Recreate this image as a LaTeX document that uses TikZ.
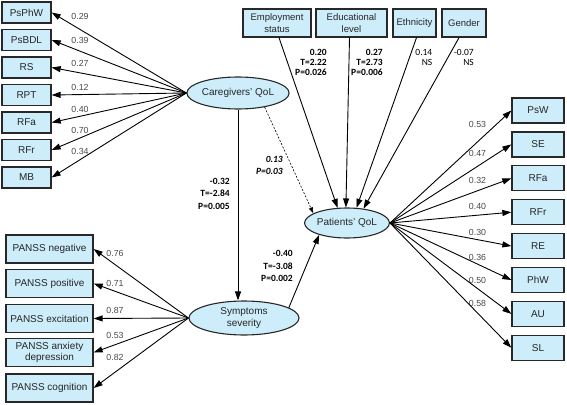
\documentclass[tikz,border=0pt]{standalone}
\usepackage{fontspec}
\setmainfont{Liberation Sans}
\newfontfamily\carl{Carlito}
\usetikzlibrary{shapes.geometric,arrows.meta}
\definecolor{boxfill}{RGB}{205,237,250}
\definecolor{edgec}{RGB}{40,40,40}
\begin{document}
\begin{tikzpicture}[x=1pt,y=-1pt,
 box/.style={draw=edgec,fill=boxfill,line width=1.3pt,inner sep=0pt,align=center,font=\fontsize{10}{11.5}\selectfont,text=black!85},
 lat/.style={ellipse,draw=edgec,fill=boxfill,line width=1.1pt,inner sep=0pt,align=center,font=\fontsize{10}{12}\selectfont,text=black!85},
 arr/.style={-{Triangle[length=9pt,width=6pt]},line width=0.9pt,draw=black},
 dsh/.style={-{Triangle[length=6pt,width=4pt]},line width=0.6pt,dash pattern=on 2pt off 1.6pt},
 ld/.style={font=\fontsize{8.8}{10}\selectfont,text=black!72,inner sep=0pt},
 st/.style={font=\carl\bfseries\fontsize{9.5}{12.5}\selectfont,align=right,inner sep=0pt,anchor=east},
 sttop/.style={font=\carl\bfseries\fontsize{9.5}{10}\selectfont,align=right,inner sep=0pt,anchor=east},
 stns/.style={font=\carl\fontsize{9.5}{10}\selectfont,align=right,inner sep=0pt,anchor=east},
]
\useasboundingbox (0,0) rectangle (567,404);

% latent variables
\node[lat,minimum width=82pt,minimum height=32pt] (care) at (238,93) {Caregivers' QoL};
\node[lat,minimum width=80pt,minimum height=30pt] (pat) at (347,223) {Patients' QoL};
\node[lat,minimum width=110pt,minimum height=34pt] (sym) at (244,318) {Symptoms\\severity};

% caregivers' indicators
\foreach \n/\t/\y/\l/\ly in {c1/PsPhW/12.5/0.29/16, c2/PsBDL/40/0.39/40, c3/RS/67.5/0.27/63, c4/RPT/95/0.12/87, c5/RFa/122.5/0.40/109, c6/RFr/150/0.70/130, c7/MB/177.5/0.34/151}{
  \node[box,minimum width=49pt,minimum height=21pt] (\n) at (26.5,\y) {\t};
  \node[ld] (\n l) at (80,\ly) {\l};
  \draw[arr] (care.west) -- (\n.east);
}

% PANSS indicators
\foreach \n/\t/\y/\l/\ly in {s1/PANSS negative/249/0.76/253, s2/PANSS positive/283.5/0.71/283, s3/PANSS excitation/318.5/0.87/310, s4/{PANSS anxiety\\depression}/352.5/0.53/335, s5/PANSS cognition/388/0.82/357}{
  \node[box,minimum width=87pt,minimum height=28pt] (\n) at (49.5,\y) {\t};
  \node[ld] (\n l) at (115,\ly) {\l};
  \draw[arr] (sym.west) -- (\n.east);
}

% patients' indicators
\foreach \n/\t/\i/\l/\ly in {p1/PsW/0/0.53/124, p2/SE/1/0.47/153, p3/RFa/2/0.32/180, p4/RFr/3/0.40/206, p5/RE/4/0.30/232, p6/PhW/5/0.36/257, p7/AU/6/0.50/280, p8/SL/7/0.58/303}{
  \node[box,minimum width=52pt,minimum height=25pt] (\n) at (538,110.5+33.9*\i) {\t};
  \node[ld] (\n l) at (477.5,\ly) {\l};
  \draw[arr] (pat.east) -- (\n.west);
}

% covariates
\node[box,minimum width=68pt,minimum height=28pt,font=\fontsize{9.5}{11.5}\selectfont] (emp) at (277,23) {Employment\\status};
\node[box,minimum width=71pt,minimum height=28pt,font=\fontsize{9.5}{11.5}\selectfont] (edu) at (351.5,23) {Educational\\level};
\node[box,minimum width=43pt,minimum height=28pt,font=\fontsize{9.5}{11.5}\selectfont] (eth) at (414.5,23) {Ethnicity};
\node[box,minimum width=44pt,minimum height=28pt,font=\fontsize{9.5}{11.5}\selectfont] (gen) at (464,23) {Gender};

\draw[arr] ([xshift=2pt]emp.south) -- (pat.122);
\draw[arr] ([xshift=-2pt]edu.south) -- (pat.94);
\draw[arr] ([xshift=2pt]eth.south) -- (pat.58);
\draw[arr] ([xshift=-5pt]gen.south) -- (pat.41);

\node[sttop] (tEmp) at (327,62) {0.20\\T=2.22\\P=0.026};
\node[sttop] (tEdu) at (383,62) {0.27\\T=2.73\\P=0.006};
\node[stns] (tEth) at (432.5,57) {0.14\\NS};
\node[stns] (tGen) at (474,57) {-0.07\\NS};

% structural paths
\draw[arr] (care.south) -- (care.south |- sym.north);
\node[st] (tCS) at (230,193.5) {-0.32\\T=-2.84\\P=0.005};

\draw[dsh] (care.-28) -- (pat.164);
\node[st,font=\carl\bfseries\itshape\fontsize{9.5}{12}\selectfont] (tCP) at (283,165) {0.13\\P=0.03};

\draw[arr] (sym.13) -- (pat.203);
\node[st] (tSP) at (293,266) {-0.40\\T=-3.08\\P=0.002};

\end{tikzpicture}
\end{document}
